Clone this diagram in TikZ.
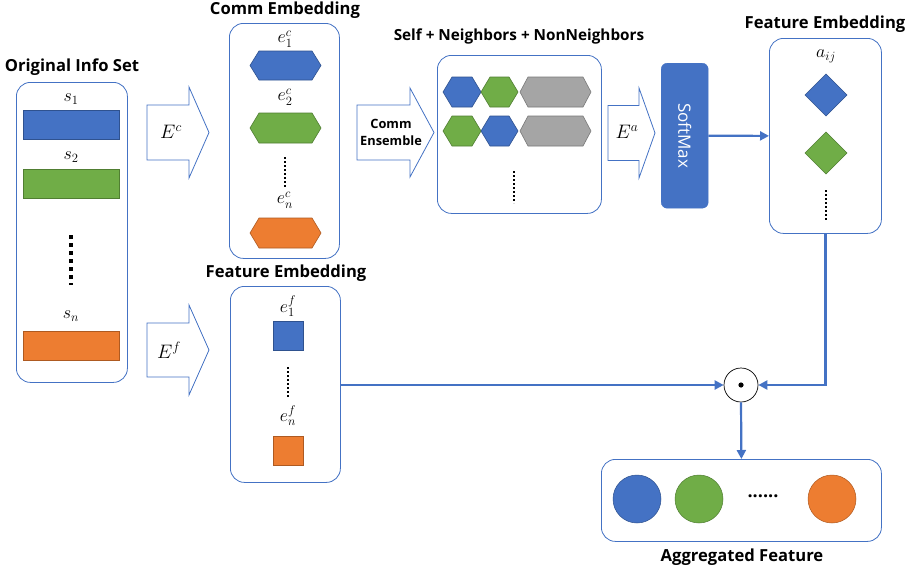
\RequirePackage{fix-cm}
\documentclass[tikz,border=0pt]{standalone}
\usepackage{fontspec}
\setmainfont{Open Sans}
\usetikzlibrary{arrows.meta}
\definecolor{blueF}{HTML}{4472C4}
\definecolor{blueD}{HTML}{2F528F}
\definecolor{greenF}{HTML}{70AD47}
\definecolor{greenD}{HTML}{507E32}
\definecolor{orangeF}{HTML}{ED7D31}
\definecolor{orangeD}{HTML}{AE5A21}
\definecolor{grayF}{HTML}{A5A5A5}
\definecolor{grayD}{HTML}{787878}
\definecolor{lineB}{HTML}{4472C4}
\newcommand\hexshape[7]{\filldraw[fill=#5,draw=#6,line width=0.6] (#1,{(#2+#4)/2}) -- ({#1+#7},#2) -- ({#3-#7},#2) -- (#3,{(#2+#4)/2}) -- ({#3-#7},#4) -- ({#1+#7},#4) -- cycle;}
\newcommand\blockarr[6]{\draw[barrow] (#1,{#4-#5}) -- (#2,{#4-#5}) -- (#2,{#4-#6}) -- (#3,#4) -- (#2,{#4+#6}) -- (#2,{#4+#5}) -- (#1,{#4+#5}) -- cycle;}
\tikzset{
  frame/.style={draw=lineB, line width=0.8, rounded corners=14, fill=white, inner sep=0pt, anchor=north west},
  barrow/.style={draw=lineB, line width=0.8, fill=white, line join=miter},
  ttl/.style={font=\fontsize{16.6}{19}\selectfont\bfseries, inner sep=0pt},
  mlab/.style={font=\fontsize{18}{20}\selectfont, inner sep=0pt},
  biglab/.style={font=\fontsize{19.5}{21}\selectfont, inner sep=0pt},
  conn/.style={draw=lineB, line width=2.2, -{Triangle[length=9pt,width=9pt]}},
  bigdots/.style={line width=3.5, dash pattern=on 3.5 off 4.5},
  smalldots/.style={line width=2.2, dash pattern=on 2.2 off 1.8},
}
\begin{document}
\begin{tikzpicture}[x=1pt,y=-1pt]
\useasboundingbox (0,0) rectangle (920,573);

% ---------- Original Info Set ----------
\node[ttl] (tOrig) at (72,67) {Original Info Set};
\node[frame, minimum width=111, minimum height=300] (orig) at (16,82) {};
\node[mlab] (s1) at (71,99) {$s_1$};
\filldraw[fill=blueF, draw=blueD, line width=0.5] (23,110) rectangle (119,139);
\node[mlab] (s2) at (71,157) {$s_2$};
\filldraw[fill=greenF, draw=greenD, line width=0.5] (23,169) rectangle (119,198);
\draw[bigdots] (71,235) -- (71,285);
\node[mlab] (sn) at (71,316) {$s_n$};
\filldraw[fill=orangeF, draw=orangeD, line width=0.5] (23,331) rectangle (119,360);

% ---------- block arrows ----------
\blockarr{147}{189}{209}{132.5}{27.5}{45.5}
\node[biglab] (Ec) at (171,132) {$E^c$};
\blockarr{147}{189}{209}{350}{27}{45}
\node[biglab] (Ef) at (169,350) {$E^f$};

% ---------- Comm Embedding ----------
\node[ttl] (tComm) at (285,10) {Comm Embedding};
\node[frame, minimum width=110, minimum height=235] (comm) at (229,23) {};
\node[mlab] (e1c) at (285,39) {$e_1^c$};
\hexshape{250}{51}{321}{80}{blueF}{blueD}{9}
\node[mlab] (e2c) at (285,97) {$e_2^c$};
\hexshape{250}{113}{321}{143}{greenF}{greenD}{9}
\draw[smalldots] (285,157) -- (285,188);
\node[mlab] (enc) at (285,200) {$e_n^c$};
\hexshape{250}{218}{321}{248}{orangeF}{orangeD}{9}

% ---------- Comm Ensemble arrow ----------
\blockarr{357}{410}{434}{132.5}{27.5}{44.5}
\node[align=center, font=\fontsize{12.8}{17}\selectfont\bfseries, inner sep=0pt] (ens) at (391,132.5) {Comm\\Ensemble};

% ---------- Self + Neighbors + NonNeighbors ----------
\node[ttl, font=\fontsize{15.3}{18}\selectfont\bfseries] (tSelf) at (519,36) {Self + Neighbors + NonNeighbors};
\node[frame, minimum width=164, minimum height=158] (ens box) at (437,55) {};
\hexshape{443}{77}{481}{107}{blueF}{blueD}{9}
\hexshape{481}{77}{518}{107}{greenF}{greenD}{9}
\hexshape{520}{77}{591}{107}{grayF}{grayD}{8}
\hexshape{443}{116}{481}{146}{greenF}{greenD}{9}
\hexshape{481}{116}{518}{146}{blueF}{blueD}{9}
\hexshape{520}{116}{591}{146}{grayF}{grayD}{8}
\draw[smalldots] (514,171) -- (514,203);

% ---------- E^a arrow ----------
\blockarr{608}{639}{655}{133}{27.5}{45}
\node[biglab] (Ea) at (627,132) {$E^a$};

% ---------- SoftMax ----------
\node[fill=blueF, draw=blueF, rounded corners=6, minimum width=47, minimum height=145, inner sep=0pt, anchor=north west] (soft) at (661,63) {};
\node[rotate=-90, text=white, font=\fontsize{17}{19}\selectfont, inner sep=0pt] (softtxt) at (soft.center) {SoftMax};

% ---------- Feature Embedding (right) ----------
\node[ttl] (tFeat) at (825,24) {Feature Embedding};
\node[frame, minimum width=112, minimum height=195] (feat) at (769,38) {};
\node[mlab] (aij) at (826,56) {$a_{ij}$};
\filldraw[fill=blueF, draw=blueD, line width=0.5] (826,74) -- (847,95) -- (826,116) -- (805,95) -- cycle;
\filldraw[fill=greenF, draw=greenD, line width=0.5] (826,132) -- (847,153) -- (826,174) -- (805,153) -- cycle;
\draw[smalldots] (826,190) -- (826,220);

% ---------- Feature Embedding (lower) ----------
\node[ttl] (tFemb) at (286,273) {Feature Embedding};
\node[frame, minimum width=110, minimum height=196] (femb) at (230,286) {};
\node[mlab] (e1f) at (288,306) {$e_1^f$};
\filldraw[fill=blueF, draw=blueD, line width=0.5] (273,321) rectangle (303,350);
\draw[smalldots] (288,367) -- (288,398);
\node[mlab] (enf) at (288,416) {$e_n^f$};
\filldraw[fill=orangeF, draw=orangeD, line width=0.5] (273,436) rectangle (303,465);

% ---------- odot ----------
\node[circle, draw=black, line width=0.7, fill=white, minimum size=34, inner sep=0pt] (odot) at (741,385) {};
\fill (odot.center) circle (2.6);

% ---------- Aggregated ----------
\node[frame, minimum width=280, minimum height=82] (agg) at (601,459) {};
\filldraw[fill=blueF, draw=blueD, line width=0.5] (637,499) circle (24);
\filldraw[fill=greenF, draw=greenD, line width=0.5] (699,499) circle (24);
\node[font=\fontsize{18}{20}\selectfont\bfseries, inner sep=0pt] (adots) at (763,496) {......};
\filldraw[fill=orangeF, draw=orangeD, line width=0.5] (832,499) circle (24);
\node[ttl] (tAgg) at (742,557) {Aggregated Feature};

% ---------- connectors ----------
\draw[conn] (soft.east) -- (feat.west);
\draw[conn] (feat.south) |- (odot.east);
\draw[conn] (femb.east |- odot.west) -- (odot.west);
\draw[conn] (odot.south) -- (agg.north);
\end{tikzpicture}
\end{document}
